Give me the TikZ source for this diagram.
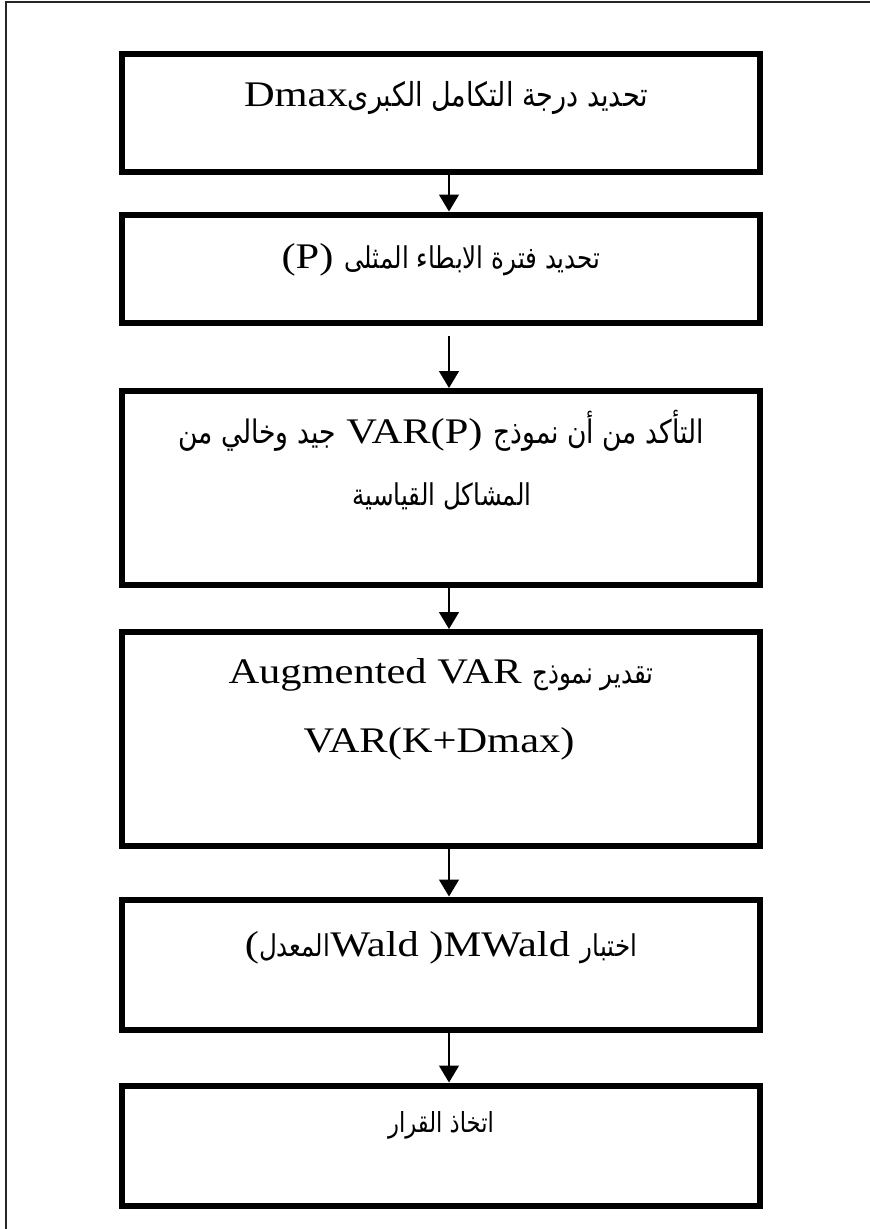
\documentclass[tikz,border=0pt]{standalone}
\usepackage{fontspec}
\usetikzlibrary{arrows.meta}
\TeXXeTstate=1
\newfontfamily\arabicfont[Script=Arabic,FakeStretch=0.82,Scale=1.2]{DejaVu Sans}
\newfontfamily\latfont[FakeStretch=1.18]{Liberation Serif}
\newcommand{\AR}[2][25]{{\fontsize{#1}{30}\selectfont\arabicfont\beginR #2\endR}}
\newcommand{\LT}[1]{{\latfont #1}}
\begin{document}
\begin{tikzpicture}[x=1pt,y=-1pt,
  box/.style={draw=black, line width=6pt, rectangle, inner sep=0pt, minimum width=638.5pt},
  txt/.style={inner sep=0pt, anchor=base, text=black, font=\fontsize{36}{40}\selectfont},
  arr/.style={line width=1.3pt, -{Triangle[length=17pt,width=20pt]}},
  frame/.style={line width=2pt, draw=black!85}]
\useasboundingbox (0,0) rectangle (870,1229);
% outer frame
\coordinate (fbl) at (5.5,1229);
\coordinate (ftl) at (5.5,2);
\coordinate (ftr) at (870,2);
\draw[frame] (fbl) -- (ftl) -- (ftr);
% boxes
\node[box, minimum height=118pt] (b1) at (440.75,112.5) {};
\node[box, minimum height=108pt] (b2) at (440.75,268.5) {};
\node[box, minimum height=194pt] (b3) at (440.75,488) {};
\node[box, minimum height=213.5pt] (b4) at (440.75,738.75) {};
\node[box, minimum height=130pt] (b5) at (440.75,964.5) {};
\node[box, minimum height=120pt] (b6) at (440.75,1145.5) {};
% texts
\node[txt] (t1) at (446,106) {\LT{Dmax}\AR[27.5]{تحديد درجة التكامل الكبرى}};
\node[txt] (t2) at (441,268) {\LT{(P)} \AR{تحديد فترة الابطاء المثلى}};
\node[txt] (t3a) at (441,443) {\AR[27]{جيد وخالي من} \LT{VAR(P)} \AR[27]{التأكد من أن نموذج}};
\node[txt] (t3b) at (442,505) {\AR{المشاكل القياسية}};
\node[txt] (t4a) at (441,683) {\LT{Augmented VAR} \AR{تقدير نموذج}};
\node[txt] (t4b) at (439,752) {\LT{VAR(K+Dmax)}};
\node[txt] (t5) at (441,956) {\LT{(}\AR{المعدل}\LT{Wald )MWald} \AR{اختبار}};
\node[txt] (t6) at (441,1132) {\AR[23]{اتخاذ القرار}};
% arrows
\coordinate (ax) at (449,0);
\draw[arr] (b1.south -| ax) -- (b2.north -| ax);
\draw[arr, shorten <=10pt] (b2.south -| ax) -- (b3.north -| ax);
\draw[arr] (b3.south -| ax) -- (b4.north -| ax);
\draw[arr] (b4.south -| ax) -- (b5.north -| ax);
\draw[arr] (b5.south -| ax) -- (b6.north -| ax);
\end{tikzpicture}
\end{document}
